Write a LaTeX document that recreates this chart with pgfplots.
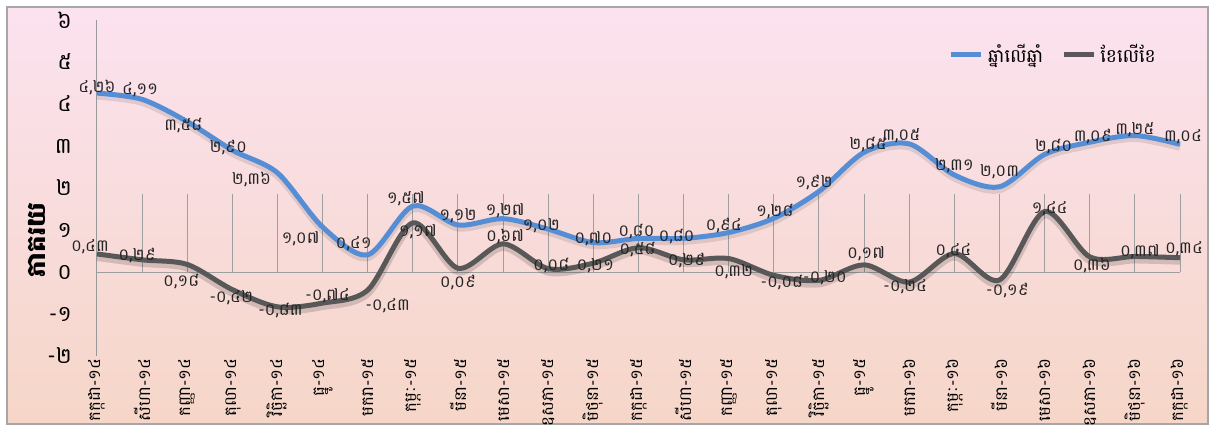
\documentclass[border=0pt]{standalone}
\usepackage{fontspec}
\setmainfont[Script=Khmer]{Battambang}
\usepackage{pgfplots}
\pgfplotsset{compat=1.18}
\usepackage{pgfplotstable}

\definecolor{yoyblue}{RGB}{85,142,213}
\definecolor{momgray}{RGB}{88,88,88}
\definecolor{bgtop}{RGB}{251,226,239}
\definecolor{bgmid}{RGB}{250,229,233}
\definecolor{bgbot}{RGB}{246,214,200}

% x: month index, yoy/mom: values, l*: printed labels, d*: label offsets (px)
\pgfplotstableread{
x yoy lyoy dxa dya mom lmom dxb dyb
0 4.26 ៤,២៦ 0 6 0.43 ០,៤៣ -7 7
1 4.11 ៤,១១ -2 10 0.29 ០,២៩ -5 4
2 3.58 ៣,៥៨ -4 -4 0.18 ០,១៨ -6 -17
3 2.90 ២,៩០ -4 3 -0.42 -០,៤២ -1 -8
4 2.36 ២,៣៦ -26 -7 -0.83 -០,៨៣ 3 -4
5 1.07 ១,០៧ -22 -12 -0.74 -០,៧៤ 5 7
6 0.41 ០,៤១ -14 11 -0.43 -០,៤៣ 20 -16
7 1.57 ១,៥៧ -7 7 1.17 ១,១៧ 5 -9
8 1.12 ១,១២ 0 9 0.09 ០,០៩ 0 -14
9 1.27 ១,២៧ 2 8 0.67 ០,៦៧ 2 7
10 1.02 ១,០២ -7 3 0.08 ០,០៨ 3 3
11 0.70 ០,៧០ 0 4 0.21 ០,២១ 2 -3
12 0.80 ០,៨០ -2 7 0.58 ០,៥៨ -1 -2
13 0.80 ០,៨០ -7 2 0.29 ០,២៩ 3 -1
14 0.94 ០,៩៤ -5 7 0.32 ០,៣២ 5 -13
15 1.28 ១,២៨ 1 7 -0.08 -០,០៨ 8 -7
16 1.92 ១,៩២ -5 9 -0.20 -០,២០ 6 3
17 2.85 ២,៨៥ 4 8 0.17 ០,១៧ 2 11
18 3.05 ៣,០៥ -8 8 -0.24 -០,២៤ -4 -5
19 2.31 ២,៣១ 0 9 0.44 ០,៤៤ -1 3
20 2.03 ២,០៣ 0 15 -0.19 -០,១៩ 8 -11
21 2.80 ២,៨០ 9 8 1.44 ១,៤៤ 5 3
22 3.09 ៣,០៩ 3 6 0.36 ០,៣៦ 2 -9
23 3.25 ៣,២៥ 0 6 0.37 ០,៣៧ 5 5
24 3.04 ៣,០៤ 3 8 0.34 ០,៣៤ 4 9
}\data

\begin{document}
\begin{tikzpicture}
\fill[white] (-48.5pt,-36.5pt) rectangle (557.5pt,178pt);
\shade[top color=bgtop, middle color=bgmid, bottom color=bgbot] (-45pt,-34pt) rectangle (555.5pt,174.5pt);
\draw[gray!70, line width=0.6pt] (-45pt,-34pt) rectangle (555.5pt,174.5pt);
\begin{axis}[
    scale only axis,
    width=541.5pt, height=168pt,
    xmin=0, xmax=24, ymin=-2, ymax=6,
    clip=false,
    axis lines*=left,
    axis line style={-},
    x axis line style={draw=none},
    y axis line style={gray!80, line width=0.5pt},
    xtick={0,...,24},
    xticklabels={កក្កដា-១៤,សីហា-១៤,កញ្ញា-១៤,តុលា-១៤,វិច្ឆិកា-១៤,ធ្នូ-១៤,មករា-១៥,កុម្ភៈ-១៥,មីនា-១៥,មេសា-១៥,ឧសភា-១៥,មិថុនា-១៥,កក្កដា-១៥,សីហា-១៥,កញ្ញា-១៥,តុលា-១៥,វិច្ឆិកា-១៥,ធ្នូ-១៥,មករា-១៦,កុម្ភៈ-១៦,មីនា-១៦,មេសា-១៦,ឧសភា-១៦,មិថុនា-១៦,កក្កដា-១៦},
    xtick style={draw=none},
    xticklabel style={rotate=90, anchor=east, font=\fontsize{8.3}{9}\selectfont, inner sep=1pt},
    ytick={-2,...,6},
    yticklabels={-២,-១,០,១,២,៣,៤,៥,៦},
    ytick style={draw=none},
    yticklabel style={font=\fontsize{11}{12}\selectfont, xshift=-9pt},
    ylabel={\bfseries ភាគរយ},
    ylabel style={at={(rel axis cs:-0.0554,0.345)}, anchor=center, font=\fontsize{13}{14}\selectfont},
    legend style={at={(0.884,0.896)}, anchor=center, draw=none, fill=none,
        legend columns=2, font=\fontsize{9.3}{11}\selectfont,
        /tikz/every even column/.append style={column sep=7pt}},
    legend image code/.code={\draw[#1] (0pt,0pt) -- (15pt,0pt);},
]
\draw[gray!75, line width=0.5pt] (axis cs:0,0) -- (axis cs:24,0);
\pgfplotsinvokeforeach{1,...,24}{\draw[gray!75, line width=0.5pt] (axis cs:#1,0) -- ++(0,-3pt);}

\addplot[smooth, line width=3.5pt, black, opacity=0.10, forget plot,
    transform canvas={yshift=-1.5pt}] table[x=x, y=yoy]{\data};
\addplot[smooth, yoyblue, line width=2.5pt,
    point meta=explicit symbolic, nodes near coords,
    visualization depends on={\thisrow{dxa}\as\labdx},
    visualization depends on={\thisrow{dya}\as\labdy},
    every node near coord/.append style={anchor=center, text=black!85,
        xshift=\labdx*0.5pt, yshift=\labdy*0.5pt,
        font=\fontsize{8.3}{9}\selectfont, inner sep=0pt}]
    table[x=x, y=yoy, meta=lyoy]{\data};
\addlegendentry{ឆ្នាំលើឆ្នាំ}

\addplot[smooth, line width=4pt, black, opacity=0.15, forget plot,
    transform canvas={yshift=-1.5pt}] table[x=x, y=mom]{\data};
\addplot[smooth, momgray, line width=2.5pt,
    point meta=explicit symbolic, nodes near coords,
    visualization depends on={\thisrow{dxb}\as\labdx},
    visualization depends on={\thisrow{dyb}\as\labdy},
    every node near coord/.append style={anchor=center, text=black!85,
        xshift=\labdx*0.5pt, yshift=\labdy*0.5pt,
        font=\fontsize{8.3}{9}\selectfont, inner sep=0pt}]
    table[x=x, y=mom, meta=lmom]{\data};
\addlegendentry{ខែលើខែ}
\end{axis}
\pgfresetboundingbox
\useasboundingbox (-48.5pt,-36.5pt) rectangle (557.5pt,178pt);
\end{tikzpicture}
\end{document}
